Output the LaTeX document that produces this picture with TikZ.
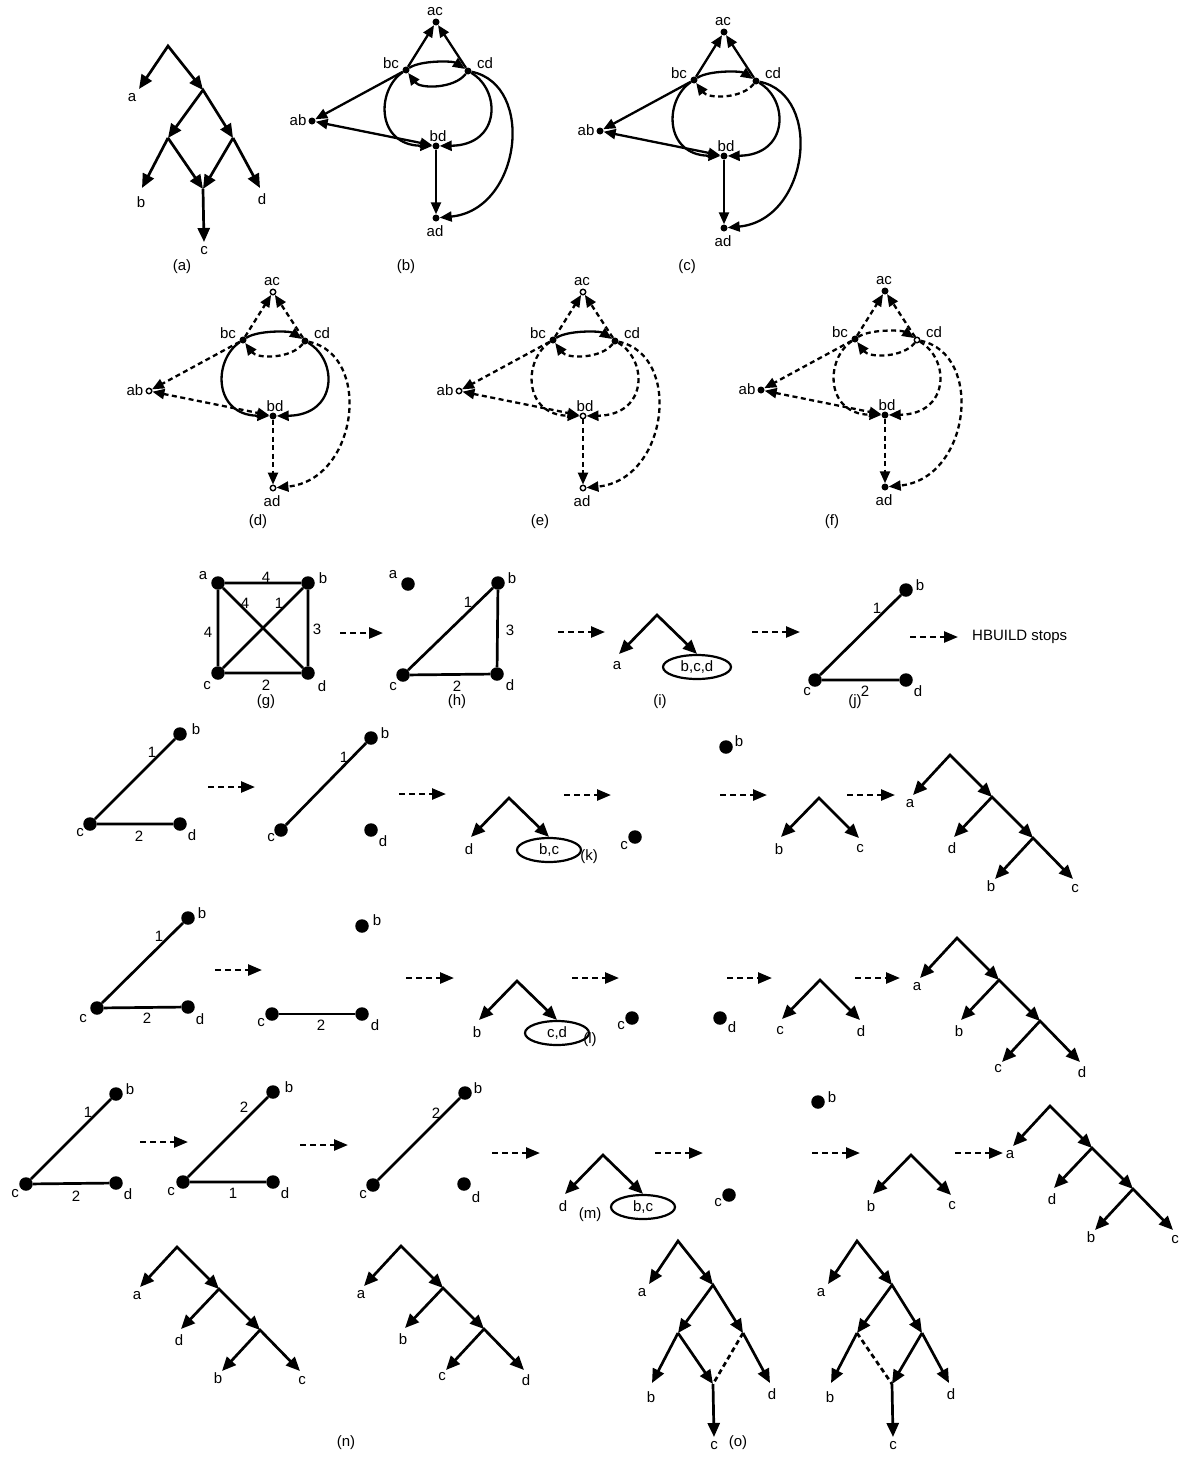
\documentclass[tikz,border=0pt]{standalone}
\usepackage{fontspec}
\setmainfont{Liberation Sans}
\usetikzlibrary{arrows.meta,shapes.geometric}
\newcommand\qgraph[1]{%
  \node[nac] (ac#1) at (30,-48) {};
  \node[nbc] (bc#1) at (0,0) {};
  \node[ncd] (cd#1) at (62,1) {};
  \node[nab] (ab#1) at (-94,51) {};
  \node[nbd] (bd#1) at (30,76) {};
  \node[nad] (ad#1) at (30,148) {};
  \node[lab] (acl#1) at (29,-58) {ac};
  \node[lab] (bcl#1) at (-15,-7) {bc};
  \node[lab] (cdl#1) at (79,-7) {cd};
  \node[lab] (abl#1) at (-108,50) {ab};
  \node[lab] (bdl#1) at (32,66) {bd};
  \node[lab] (adl#1) at (29,161) {ad};
  \draw[ge,eA] (bc#1) -- (ac#1);
  \draw[ge,eB] (cd#1) -- (ac#1);
  \draw[ge,eC] (bc#1) .. controls +(15,-10) and +(-15,-10) .. (cd#1);
  \draw[ge,eD] (cd#1) .. controls +(-14,18) and +(14,19) .. (bc#1);
  \draw[ge,eE] (bc#1) -- (ab#1);
  \draw[ge2,eF] (ab#1) -- (bd#1);
  \draw[ge,eG] (bc#1) .. controls +(-30,20) and +(-60,-1) .. (bd#1);
  \draw[ge,eH] (cd#1) .. controls +(33,19) and +(65,-1) .. (bd#1);
  \draw[ge,eI] (bd#1) -- (ad#1);
  \draw[ge,eJ] (cd#1) .. controls +(68,14) and +(85,-8) .. (ad#1);
}
\newcommand\cattree[7]{%
 \begin{scope}[shift={(#2,#3)}]
  \coordinate (#1r) at (0,0);
  \coordinate (#1t1) at (-37,40);
  \coordinate (#1n1) at (42,42);
  \coordinate (#1t2) at (4,82);
  \coordinate (#1n2) at (83,83);
  \coordinate (#1t3) at (45,124);
  \coordinate (#1t4) at (123,124);
  \draw[tv] (#1t1) -- (#1r) -- (#1n1);
  \draw[tv] (#1t2) -- (#1n1) -- (#1n2);
  \draw[tv] (#1t3) -- (#1n2) -- (#1t4);
  \node[lab] (#1L1) at (-40,49) {#4};
  \node[lab] (#1L2) at (2,93) {#5};
  \node[lab] (#1L3) at (41,131) {#6};
  \node[lab] (#1L4) at (125,134) {#7};
 \end{scope}}
\newcommand\vtree[5]{%
 \begin{scope}[shift={(#2,#3)}]
  \coordinate (#1r) at (0,0);
  \coordinate (#1tl) at (-38,39);
  \coordinate (#1tr) at (40,40);
  \draw[tv] (#1tl) -- (#1r) -- (#1tr);
  \node[lab] (#1L1) at (-40,51) {#4};
  \node[lab] (#1L2) at (41,51) {#5};
 \end{scope}}
\newcommand\etree[6]{%
 \begin{scope}[shift={(#2,#3)}]
  \coordinate (#1r) at (0,0);
  \coordinate (#1tl) at (-38,39);
  \node[ell,minimum width=#6] (#1e) at (40,52) {#5};
  \draw[tv] (#1tl) -- (#1r) -- (#1e.north);
  \node[lab] (#1L1) at (-40,51) {#4};
 \end{scope}}
\newcommand\dtree[5]{%
 \begin{scope}[shift={(#2,#3)}]
  \coordinate (#1r) at (0,0);
  \coordinate (#1ta) at (-29,43);
  \coordinate (#1x) at (35,44);
  \coordinate (#1l) at (0,92);
  \coordinate (#1rr) at (65,92);
  \coordinate (#1tb) at (-26,142);
  \coordinate (#1m) at (35,143);
  \coordinate (#1td) at (92,142);
  \coordinate (#1tc) at (36,196);
  \draw[tv] (#1ta) -- (#1r) -- (#1x);
  \draw[tv] (#1l) -- (#1x) -- (#1rr);
  \draw[ta] (#1l) -- (#1tb);
  \draw[ta,#4] (#1l) -- (#1m);
  \draw[ta,#5] (#1rr) -- (#1m);
  \draw[ta] (#1rr) -- (#1td);
  \draw[ta] (#1m) -- (#1tc);
  \node[lab] (#1la) at (-36,52) {a};
  \node[lab] (#1lb) at (-27,156) {b};
  \node[lab] (#1ld) at (94,153) {d};
  \node[lab] (#1lc) at (36,205) {c};
 \end{scope}}
\newcommand\stepar[4]{%
  \coordinate (#1s) at (#2,#3);
  \coordinate (#1e) at (#4,#3);
  \draw[darr] (#1s) -- (#1e);}
\begin{document}
\begin{tikzpicture}[x=1pt,y=-1pt,
  lab/.style={inner sep=0pt,font=\fontsize{15}{17}\selectfont},
  sdot/.style={circle,fill=black,inner sep=0pt,minimum size=7pt},
  odot/.style={circle,draw=black,fill=white,line width=1.4pt,inner sep=0pt,minimum size=5.5pt},
  bdot/.style={circle,fill=black,inner sep=0pt,minimum size=13.5pt},
  wl/.style={line width=2.7pt},
  ge/.style={line width=2.3pt,-{Triangle[length=12pt,width=10pt]}},
  ge2/.style={line width=2.3pt,{Triangle[length=12pt,width=10pt]}-{Triangle[length=12pt,width=10pt]}},
  dsh/.style={dash pattern=on 5pt off 3.5pt},
  tdash/.style={-,dash pattern=on 5pt off 3.5pt},
  tv/.style={line width=2.7pt,{Triangle[length=14pt,width=12pt]}-{Triangle[length=14pt,width=12pt]}},
  ta/.style={line width=2.7pt,-{Triangle[length=14pt,width=12pt]}},
  darr/.style={line width=2.5pt,dash pattern=on 6pt off 4pt,-{Triangle[length=14pt,width=11pt]}},
  ell/.style={ellipse,draw,line width=2.2pt,inner sep=0pt,minimum height=24pt,font=\fontsize{15}{17}\selectfont},
  eA/.style={},eB/.style={},eC/.style={},eD/.style={},eE/.style={},
  eF/.style={},eG/.style={},eH/.style={},eI/.style={},eJ/.style={},
  nac/.style={sdot},nbc/.style={sdot},ncd/.style={sdot},
  nab/.style={sdot},nbd/.style={sdot},nad/.style={sdot}]
\path[use as bounding box,fill=white] (0,0) rectangle (1181,1475);

% (a)
\dtree{A}{168}{46}{}{}
\node[lab] (capa) at (182,267) {(a)};
% (b)
\begin{scope}[shift={(406,70)}] \qgraph{B} \end{scope}
\node[lab] (capb) at (406,267) {(b)};
% (c)
\begin{scope}[shift={(694,80)},eD/.style={dsh}] \qgraph{C} \end{scope}
\node[lab] (capc) at (687,267) {(c)};
% (d)
\begin{scope}[shift={(243,340)},eA/.style={dsh},eB/.style={dsh},eD/.style={dsh},
  eE/.style={dsh},eF/.style={dsh},eI/.style={dsh},eJ/.style={dsh},
  nac/.style={odot},nab/.style={odot},nad/.style={odot}] \qgraph{D} \end{scope}
\node[lab] (capd) at (258,522) {(d)};
% (e)
\begin{scope}[shift={(553,340)},eA/.style={dsh},eB/.style={dsh},eD/.style={dsh},
  eE/.style={dsh},eF/.style={dsh},eG/.style={dsh},eH/.style={dsh},eI/.style={dsh},eJ/.style={dsh},
  nac/.style={odot},nab/.style={odot},nbd/.style={odot},nad/.style={odot}] \qgraph{E} \end{scope}
\node[lab] (cape) at (540,522) {(e)};
% (f)
\begin{scope}[shift={(855,339)},eA/.style={dsh},eB/.style={dsh},eC/.style={dsh},eD/.style={dsh},
  eE/.style={dsh},eF/.style={dsh},eG/.style={dsh},eH/.style={dsh},eI/.style={dsh},eJ/.style={dsh},
  ncd/.style={odot}] \qgraph{F} \end{scope}
\node[lab] (capf) at (832,522) {(f)};

% (g)
\node[bdot] (ga) at (218,583) {};
\node[bdot] (gb) at (308,583) {};
\node[bdot] (gc) at (218,673) {};
\node[bdot] (gd) at (308,673) {};
\draw[wl] (ga)--(gb) (ga)--(gc) (gb)--(gd) (gc)--(gd) (ga)--(gd) (gb)--(gc);
\node[lab] (gla) at (203,576) {a};
\node[lab] (glb) at (323,578) {b};
\node[lab] (glc) at (207,686) {c};
\node[lab] (gld) at (322,686) {d};
\node[lab] (gw1) at (266,577) {4};
\node[lab] (gw2) at (245,603) {4};
\node[lab] (gw3) at (279,603) {1};
\node[lab] (gw4) at (208,632) {4};
\node[lab] (gw5) at (317,629) {3};
\node[lab] (gw6) at (266,685) {2};
\node[lab] (capg) at (266,702) {(g)};
\stepar{sg}{340}{633}{383}
% (h)
\node[bdot] (ha) at (408,584) {};
\node[bdot] (hb) at (498,583) {};
\node[bdot] (hc) at (403,675) {};
\node[bdot] (hd) at (497,674) {};
\draw[wl] (hc)--(hb) (hb)--(hd) (hc)--(hd);
\node[lab] (hla) at (393,575) {a};
\node[lab] (hlb) at (512,578) {b};
\node[lab] (hlc) at (393,687) {c};
\node[lab] (hld) at (510,685) {d};
\node[lab] (hw1) at (468,602) {1};
\node[lab] (hw2) at (510,630) {3};
\node[lab] (hw3) at (457,686) {2};
\node[lab] (caph) at (457,702) {(h)};
\stepar{sh}{558}{632}{605}
% (i)
\etree{I}{657}{615}{a}{b,c,d}{68pt}
\node[lab] (capi) at (660,702) {(i)};
\stepar{si}{752}{632}{800}
% (j)
\node[bdot] (jb) at (906,590) {};
\node[bdot] (jc) at (815,680) {};
\node[bdot] (jd) at (906,680) {};
\draw[wl] (jc)--(jb) (jc)--(jd);
\node[lab] (jlb) at (920,585) {b};
\node[lab] (jlc) at (807,692) {c};
\node[lab] (jld) at (918,691) {d};
\node[lab] (jw1) at (877,608) {1};
\node[lab] (jw2) at (865,691) {2};
\node[lab] (capj) at (855,702) {(j)};
\stepar{sj}{910}{637}{958}
\node[lab,anchor=west] (hbs) at (972,637) {HBUILD stops};

% (k)
\node[bdot] (k1b) at (180,734) {};
\node[bdot] (k1c) at (90,824) {};
\node[bdot] (k1d) at (180,824) {};
\draw[wl] (k1c)--(k1b) (k1c)--(k1d);
\node[lab] (k1lb) at (196,729) {b};
\node[lab] (k1lc) at (80,833) {c};
\node[lab] (k1ld) at (192,835) {d};
\node[lab] (k1w1) at (152,752) {1};
\node[lab] (k1w2) at (139,836) {2};
\stepar{sk1}{208}{787}{255}
\node[bdot] (k2b) at (371,738) {};
\node[bdot] (k2c) at (281,830) {};
\node[bdot] (k2d) at (371,830) {};
\draw[wl] (k2c)--(k2b);
\node[lab] (k2lb) at (385,733) {b};
\node[lab] (k2lc) at (271,838) {c};
\node[lab] (k2ld) at (383,841) {d};
\node[lab] (k2w1) at (344,757) {1};
\stepar{sk2}{399}{794}{446}
\etree{K3}{509}{798}{d}{b,c}{64pt}
\stepar{sk3}{564}{795}{611}
\node[bdot] (k4b) at (726,747) {};
\node[bdot] (k4c) at (635,837) {};
\node[lab] (k4lb) at (739,741) {b};
\node[lab] (k4lc) at (624,846) {c};
\stepar{sk4}{720}{795}{767}
\vtree{K5}{819}{798}{b}{c}
\stepar{sk5}{847}{795}{895}
\cattree{K6}{950}{755}{a}{d}{b}{c}
\node[lab] (capk) at (589,857) {(k)};

% (l)
\node[bdot] (l1b) at (188,918) {};
\node[bdot] (l1c) at (97,1008) {};
\node[bdot] (l1d) at (188,1007) {};
\draw[wl] (l1c)--(l1b) (l1c)--(l1d);
\node[lab] (l1lb) at (202,913) {b};
\node[lab] (l1lc) at (83,1019) {c};
\node[lab] (l1ld) at (200,1019) {d};
\node[lab] (l1w1) at (159,936) {1};
\node[lab] (l1w2) at (147,1018) {2};
\stepar{sl1}{215}{970}{262}
\node[bdot] (l2b) at (362,926) {};
\node[bdot] (l2c) at (272,1014) {};
\node[bdot] (l2d) at (362,1014) {};
\draw[wl] (l2c)--(l2d);
\node[lab] (l2lb) at (377,920) {b};
\node[lab] (l2lc) at (261,1023) {c};
\node[lab] (l2ld) at (375,1025) {d};
\node[lab] (l2w1) at (321,1025) {2};
\stepar{sl2}{406}{978}{454}
\etree{L3}{517}{981}{b}{c,d}{64pt}
\stepar{sl3}{572}{978}{619}
\node[bdot] (l4c) at (632,1018) {};
\node[bdot] (l4d) at (720,1018) {};
\node[lab] (l4lc) at (621,1026) {c};
\node[lab] (l4ld) at (732,1027) {d};
\stepar{sl4}{727}{978}{772}
\vtree{L5}{820}{980}{c}{d}
\stepar{sl5}{855}{978}{900}
\cattree{L6}{957}{938}{a}{b}{c}{d}
\node[lab] (capl) at (590,1040) {(l)};

% (m)
\node[bdot] (m1b) at (116,1094) {};
\node[bdot] (m1c) at (26,1184) {};
\node[bdot] (m1d) at (116,1183) {};
\draw[wl] (m1c)--(m1b) (m1c)--(m1d);
\node[lab] (m1lb) at (130,1089) {b};
\node[lab] (m1lc) at (15,1194) {c};
\node[lab] (m1ld) at (128,1194) {d};
\node[lab] (m1w1) at (88,1112) {1};
\node[lab] (m1w2) at (76,1196) {2};
\stepar{sm1}{140}{1142}{188}
\node[bdot] (m2b) at (273,1092) {};
\node[bdot] (m2c) at (183,1182) {};
\node[bdot] (m2d) at (273,1182) {};
\draw[wl] (m2c)--(m2b) (m2c)--(m2d);
\node[lab] (m2lb) at (289,1087) {b};
\node[lab] (m2lc) at (171,1192) {c};
\node[lab] (m2ld) at (285,1193) {d};
\node[lab] (m2w1) at (244,1107) {2};
\node[lab] (m2w2) at (233,1193) {1};
\stepar{sm2}{300}{1145}{348}
\node[bdot] (m3b) at (465,1093) {};
\node[bdot] (m3c) at (373,1185) {};
\node[bdot] (m3d) at (464,1184) {};
\draw[wl] (m3c)--(m3b);
\node[lab] (m3lb) at (478,1088) {b};
\node[lab] (m3lc) at (363,1195) {c};
\node[lab] (m3ld) at (476,1197) {d};
\node[lab] (m3w1) at (436,1113) {2};
\stepar{sm3}{492}{1153}{540}
\etree{M4}{603}{1155}{d}{b,c}{64pt}
\stepar{sm4}{655}{1153}{703}
\node[bdot] (m5b) at (818,1102) {};
\node[bdot] (m5c) at (729,1195) {};
\node[lab] (m5lb) at (832,1097) {b};
\node[lab] (m5lc) at (718,1203) {c};
\stepar{sm5}{812}{1153}{860}
\vtree{M6}{911}{1155}{b}{c}
\stepar{sm6}{955}{1153}{1003}
\cattree{M7}{1050}{1106}{a}{d}{b}{c}
\node[lab] (capm) at (590,1215) {(m)};

% (n)
\cattree{N1}{177}{1247}{a}{d}{b}{c}
\cattree{N2}{401}{1246}{a}{b}{c}{d}
\node[lab] (capn) at (346,1443) {(n)};
% (o)
\dtree{O1}{678}{1241}{}{tdash}
\dtree{O2}{857}{1241}{tdash}{}
\node[lab] (capo) at (738,1443) {(o)};
\end{tikzpicture}
\end{document}
